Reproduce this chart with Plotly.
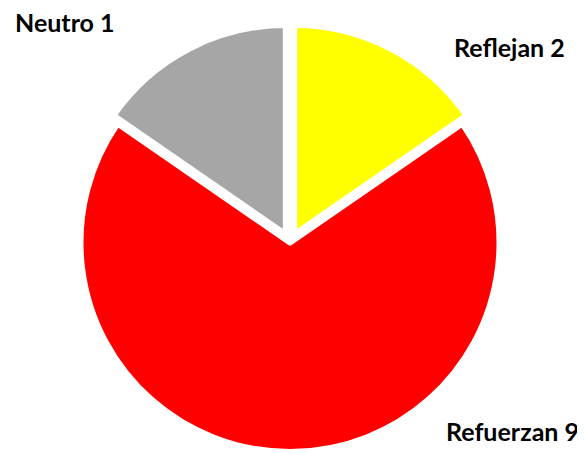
import plotly.graph_objects as go

categories = ["Reflejan", "Refuerzan", "Neutro"]
# slice sizes as drawn in the picture
values = [2, 9, 2]
# counts as printed in the labels
label_counts = [2, 9, 1]
colors = ["#FFFF00", "#FF0000", "#A6A6A6"]
pulls = [0.043, 0, 0.043]

fig = go.Figure(go.Pie(
    labels=categories,
    values=values,
    sort=False,
    direction="clockwise",
    rotation=0,
    pull=pulls,
    marker=dict(colors=colors, line=dict(color="white", width=6)),
    textinfo="none",
    hoverinfo="label+value",
    showlegend=False,
    domain=dict(x=[0.1077, 0.8564], y=[0.0, 0.9647]),
))

# label positions (paper coords): x, y center, x anchor
label_pos = {
    "Reflejan": (0.759, 0.914, "left"),
    "Refuerzan": (0.979, 0.066, "right"),
    "Neutro": (0.008, 0.969, "left"),
}
for cat, n in zip(categories, label_counts):
    x, y, anc = label_pos[cat]
    fig.add_annotation(
        x=x, y=y, xref="paper", yref="paper", xanchor=anc, yanchor="middle",
        text=f"<b>{cat} {n}</b>", showarrow=False,
        font=dict(family="Lato", size=25, color="#000000"),
    )

fig.update_layout(
    width=585, height=453,
    margin=dict(l=0, r=0, t=0, b=0),
    paper_bgcolor="white",
    plot_bgcolor="white",
)

fig.write_html("out.html")
